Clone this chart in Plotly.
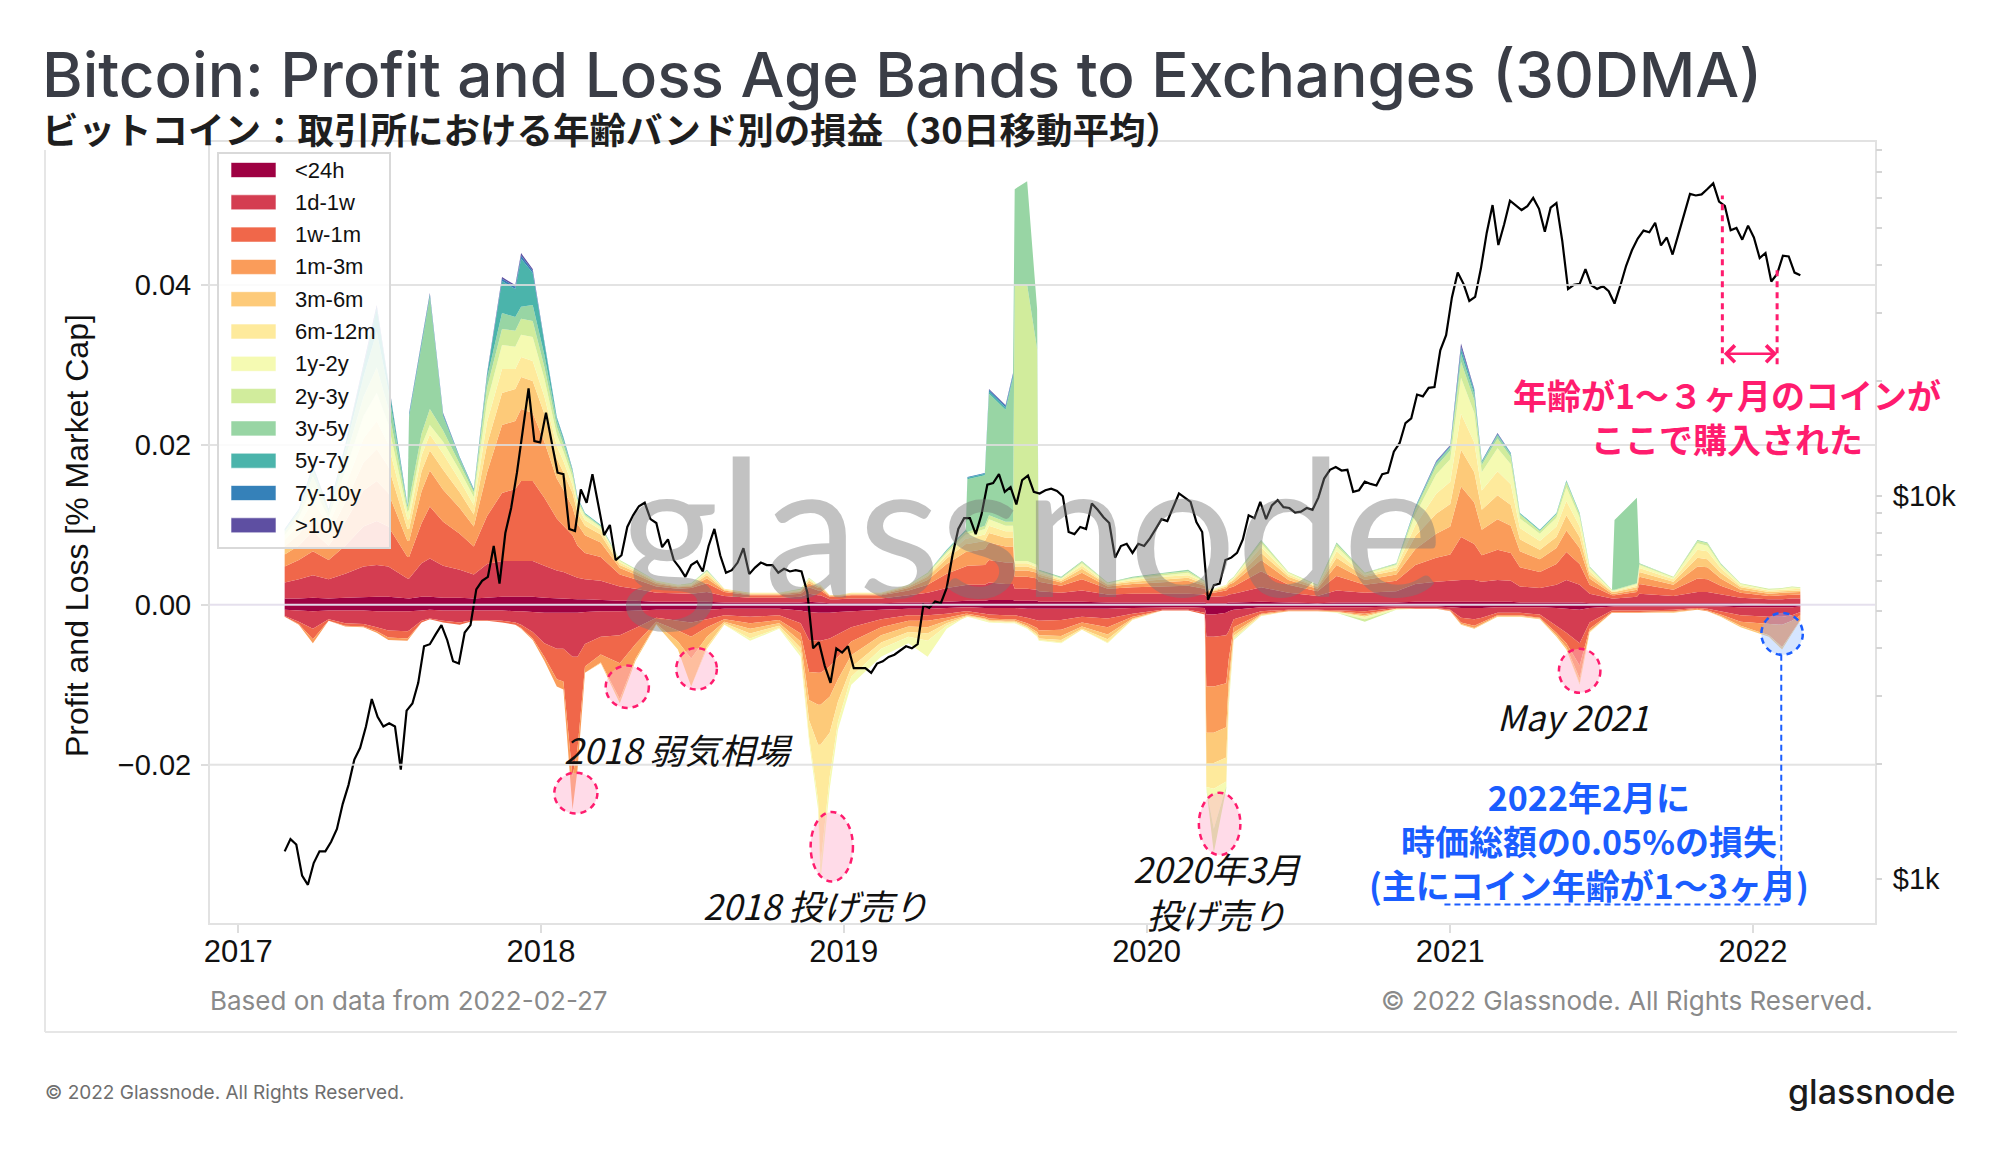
import numpy as np
import pandas as pd
import plotly.graph_objects as go

# Age bands (legend order, innermost band first)
BANDS = ["<24h", "1d-1w", "1w-1m", "1m-3m", "3m-6m", "6m-12m",
         "1y-2y", "2y-3y", "3y-5y", "5y-7y", "7y-10y", ">10y"]
COLORS = ["#9e0142", "#d43d51", "#f0674a", "#fa9c5a", "#fdca79", "#feea9c",
          "#f5fab2", "#d1ec9c", "#98d5a4", "#4bb4ab", "#3581b9", "#5e4fa2"]

# 30DMA profit / loss per band, in units of 0.0001 (% market cap)
BAND_DATES = [
    "2017-02-26", "2017-03-15", "2017-04-01", "2017-04-20", "2017-05-10", "2017-06-01", "2017-06-17", "2017-07-01", "2017-07-24", "2017-07-26",
    "2017-08-10", "2017-08-20", "2017-09-05", "2017-09-25", "2017-10-12", "2017-10-28", "2017-11-15", "2017-12-01", "2017-12-08", "2017-12-22",
    "2018-01-05", "2018-01-20", "2018-01-28", "2018-02-08", "2018-02-14", "2018-02-23", "2018-03-14", "2018-04-06", "2018-04-25", "2018-05-20",
    "2018-06-15", "2018-07-01", "2018-07-20", "2018-08-10", "2018-09-10", "2018-10-15", "2018-11-10", "2018-11-20", "2018-12-01", "2018-12-04",
    "2018-12-15", "2018-12-25", "2019-01-10", "2019-02-15", "2019-03-20", "2019-04-12", "2019-05-05", "2019-05-28", "2019-05-30", "2019-06-20",
    "2019-06-25", "2019-07-15", "2019-07-24", "2019-07-26", "2019-08-10", "2019-08-22", "2019-08-24", "2019-09-20", "2019-10-15", "2019-11-15",
    "2019-12-15", "2020-01-20", "2020-02-20", "2020-03-11", "2020-03-13", "2020-03-22", "2020-04-06", "2020-04-09", "2020-04-15", "2020-05-18",
    "2020-06-20", "2020-07-25", "2020-08-17", "2020-09-20", "2020-10-28", "2020-11-20", "2020-12-15", "2021-01-01", "2021-01-14", "2021-01-30",
    "2021-02-08", "2021-02-27", "2021-03-15", "2021-03-26", "2021-04-19", "2021-05-09", "2021-05-21", "2021-06-06", "2021-06-18", "2021-07-15",
    "2021-07-18", "2021-08-14", "2021-08-17", "2021-09-27", "2021-10-26", "2021-11-07", "2021-11-23", "2021-12-17", "2022-01-20", "2022-02-05",
    "2022-02-17", "2022-02-27",
]

P_LT24H = [8, 8, 9, 8, 9, 10, 10, 10, 8, 8,
           10, 10, 9, 9, 8, 9, 10, 10, 10, 10,
           9, 8, 8, 7, 7, 7, 6, 5, 5, 4,
           4, 4, 4, 3, 3, 3, 3, 4, 3, 3,
           2, 2, 2, 2, 3, 3, 4, 5, 5, 5,
           6, 6, 6, 5, 5, 5, 4, 4, 4, 3,
           3, 3, 3, 3, 2, 2, 2, 3, 3, 4,
           3, 2, 3, 3, 3, 4, 4, 4, 4, 4,
           4, 4, 4, 3, 3, 3, 3, 3, 2, 2,
           2, 2, 2, 2, 2, 2, 2, 2, 1, 1,
           1, 1]
P_1D1W = [20, 24, 28, 24, 30, 38, 40, 38, 25, 25,
          42, 48, 40, 35, 30, 42, 45, 45, 45, 45,
          40, 35, 33, 30, 27, 25, 24, 18, 15, 11,
          10, 10, 12, 8, 6, 6, 7, 10, 9, 9,
          5, 5, 6, 6, 9, 12, 17, 20, 20, 20,
          22, 20, 20, 15, 15, 14, 13, 11, 14, 10,
          11, 11, 11, 10, 8, 8, 9, 10, 11, 18,
          12, 9, 15, 12, 14, 22, 25, 26, 27, 27,
          25, 27, 26, 20, 18, 22, 28, 22, 12, 6,
          6, 8, 12, 9, 14, 14, 11, 7, 6, 6,
          7, 7]
P_1W1M = [20, 24, 30, 24, 35, 50, 55, 50, 27, 27,
          50, 65, 55, 45, 35, 60, 85, 90, 100, 100,
          85, 65, 58, 50, 40, 33, 30, 15, 12, 8,
          6, 7, 11, 5, 3, 3, 4, 8, 6, 6,
          3, 3, 4, 4, 6, 10, 18, 24, 24, 25,
          28, 27, 27, 15, 15, 14, 12, 9, 14, 7,
          8, 9, 10, 7, 5, 5, 7, 8, 9, 20,
          10, 6, 18, 10, 13, 24, 30, 33, 54, 45,
          33, 38, 35, 24, 20, 26, 35, 26, 11, 4,
          4, 6, 12, 8, 17, 16, 11, 6, 4, 5,
          5, 5]
P_1M3M = [15, 18, 25, 18, 30, 45, 50, 42, 20, 20,
          40, 45, 40, 32, 25, 55, 85, 85, 90, 85,
          70, 50, 45, 35, 27, 22, 18, 8, 6, 3,
          2, 2, 6, 2, 1, 1, 2, 5, 3, 3,
          1, 1, 1, 1, 3, 6, 12, 17, 17, 20,
          22, 20, 20, 8, 8, 7, 6, 4, 8, 3,
          4, 5, 6, 4, 2, 2, 3, 4, 5, 14,
          6, 3, 14, 6, 8, 20, 30, 35, 63, 52,
          32, 38, 34, 20, 16, 20, 27, 20, 8, 2,
          2, 3, 9, 6, 15, 15, 9, 4, 3, 3,
          3, 3]
P_3M6M = [10, 14, 20, 14, 24, 35, 40, 33, 15, 15,
          25, 25, 25, 20, 15, 35, 40, 40, 40, 40,
          35, 25, 22, 18, 14, 12, 10, 4, 3, 2,
          1, 1, 4, 1, 1, 1, 1, 3, 2, 2,
          1, 1, 1, 1, 2, 4, 7, 10, 10, 10,
          12, 11, 11, 5, 5, 4, 3, 2, 5, 2,
          3, 4, 4, 2, 1, 1, 2, 2, 3, 9,
          4, 2, 9, 4, 5, 16, 25, 28, 46, 38,
          25, 30, 26, 15, 12, 14, 19, 14, 5, 2,
          2, 3, 6, 4, 11, 10, 7, 3, 2, 2,
          2, 2]
P_6M12M = [8, 12, 18, 12, 20, 30, 35, 28, 12, 12,
           20, 20, 20, 15, 12, 28, 30, 25, 25, 25,
           22, 16, 14, 10, 8, 7, 6, 3, 2, 1,
           1, 1, 3, 1, 1, 1, 1, 2, 1, 1,
           0, 0, 1, 1, 1, 2, 4, 7, 7, 8,
           9, 8, 8, 4, 4, 3, 2, 2, 4, 1,
           2, 3, 3, 2, 1, 1, 1, 1, 2, 7,
           3, 1, 8, 2, 4, 14, 25, 28, 45, 37,
           24, 30, 26, 14, 11, 13, 18, 13, 4, 1,
           1, 2, 5, 3, 10, 10, 6, 2, 2, 2,
           2, 2]
P_1Y2Y = [6, 9, 17, 9, 19, 28, 35, 25, 9, 12,
          12, 12, 15, 12, 10, 25, 30, 28, 28, 30,
          22, 14, 12, 9, 6, 5, 3, 2, 1, 1,
          1, 1, 2, 0, 0, 0, 1, 1, 1, 1,
          0, 0, 0, 0, 1, 2, 3, 5, 5, 7,
          8, 7, 7, 3, 3, 3, 2, 1, 3, 1,
          2, 2, 3, 1, 1, 1, 1, 1, 1, 5,
          2, 1, 6, 2, 3, 13, 24, 28, 45, 37,
          23, 29, 25, 12, 9, 11, 17, 11, 4, 1,
          1, 2, 4, 2, 8, 7, 4, 2, 1, 1,
          2, 1]
P_2Y3Y = [4, 6, 14, 6, 15, 24, 32, 20, 5, 11,
          15, 20, 14, 9, 6, 18, 20, 20, 20, 20,
          15, 10, 8, 6, 3, 2, 1, 1, 1, 0,
          0, 1, 1, 0, 0, 0, 1, 1, 0, 0,
          0, 0, 0, 0, 0, 1, 2, 3, 3, 4,
          5, 5, 5, 345, 345, 270, 1, 1, 2, 1,
          1, 2, 2, 1, 0, 0, 0, 1, 1, 3,
          1, 1, 3, 1, 1, 6, 10, 11, 20, 16,
          9, 12, 9, 5, 3, 4, 6, 4, 1, 1,
          1, 1, 1, 1, 3, 3, 1, 1, 1, 1,
          1, 1]
P_3Y5Y = [2, 3, 9, 3, 12, 25, 45, 22, 2, 105,
          110, 140, 18, 6, 2, 12, 20, 17, 15, 20,
          15, 8, 6, 3, 1, 1, 1, 0, 0, 0,
          0, 0, 1, 0, 0, 0, 0, 0, 0, 0,
          0, 0, 0, 0, 0, 0, 1, 2, 66, 63,
          152, 140, 180, 120, 130, 50, 1, 1, 1, 0,
          1, 1, 2, 0, 0, 0, 0, 0, 0, 1,
          0, 0, 2, 0, 1, 2, 4, 4, 10, 7,
          3, 4, 3, 1, 1, 1, 2, 1, 1, 0,
          87, 107, 1, 0, 1, 1, 1, 0, 0, 0,
          0, 0]
P_5Y7Y = [1, 1, 3, 1, 4, 12, 28, 10, 1, 3,
          4, 3, 2, 1, 1, 4, 40, 35, 60, 40,
          15, 3, 3, 1, 1, 1, 1, 0, 0, 0,
          0, 0, 0, 0, 0, 0, 0, 0, 0, 0,
          0, 0, 0, 0, 0, 0, 1, 1, 2, 2,
          3, 3, 3, 0, 0, 0, 0, 0, 0, 0,
          0, 0, 0, 0, 0, 0, 0, 0, 0, 0,
          0, 0, 0, 0, 0, 1, 1, 1, 6, 4,
          1, 1, 1, 1, 1, 1, 1, 1, 0, 0,
          0, 0, 0, 0, 0, 0, 0, 0, 0, 0,
          0, 0]
P_7Y10Y = [1, 1, 1, 1, 1, 2, 3, 1, 1, 1,
           1, 1, 1, 1, 1, 1, 3, 3, 4, 3,
           2, 1, 1, 1, 1, 0, 0, 0, 0, 0,
           0, 0, 0, 0, 0, 0, 0, 0, 0, 0,
           0, 0, 0, 0, 0, 0, 0, 0, 1, 1,
           2, 2, 2, 0, 0, 0, 0, 0, 0, 0,
           0, 0, 0, 0, 0, 0, 0, 0, 0, 0,
           0, 0, 0, 0, 0, 1, 1, 1, 3, 2,
           1, 1, 1, 0, 0, 0, 0, 0, 0, 0,
           0, 0, 0, 0, 0, 0, 0, 0, 0, 0,
           0, 0]
P_GT10Y = [0, 0, 1, 0, 1, 1, 2, 1, 0, 1,
           1, 1, 1, 0, 0, 1, 2, 2, 3, 2,
           0, 0, 0, 0, 0, 0, 0, 0, 0, 0,
           0, 0, 0, 0, 0, 0, 0, 0, 0, 0,
           0, 0, 0, 0, 0, 0, 0, 0, 0, 0,
           1, 1, 1, 0, 0, 0, 0, 0, 0, 0,
           0, 0, 0, 0, 0, 0, 0, 0, 0, 0,
           0, 0, 0, 0, 0, 0, 1, 1, 4, 1,
           0, 1, 0, 0, 0, 0, 0, 0, 0, 0,
           0, 0, 0, 0, 0, 0, 0, 0, 0, 0,
           0, 0]

# realised losses (magnitudes, same units); bands older than 3y show no visible loss
L_LT24H = [6, 7, 8, 7, 7, 7, 8, 8, 8, 8,
           7, 6, 7, 7, 7, 7, 7, 8, 8, 9,
           10, 10, 10, 10, 10, 9, 8, 8, 7, 6,
           6, 6, 6, 5, 5, 5, 7, 9, 10, 10,
           10, 9, 8, 6, 5, 5, 4, 3, 3, 4,
           4, 4, 4, 4, 5, 5, 5, 5, 5, 5,
           4, 3, 3, 4, 12, 12, 10, 8, 6, 3,
           3, 3, 3, 3, 2, 2, 2, 3, 4, 4,
           4, 3, 3, 3, 3, 4, 5, 6, 4, 2,
           2, 2, 2, 2, 2, 2, 2, 3, 3, 3,
           3, 2]
L_1D1W = [8, 14, 22, 11, 16, 17, 20, 24, 25, 24,
          13, 11, 13, 15, 12, 12, 13, 14, 17, 25,
          38, 45, 45, 55, 55, 40, 32, 30, 22, 10,
          14, 16, 12, 8, 10, 8, 16, 35, 35, 35,
          32, 28, 20, 12, 8, 8, 7, 5, 5, 7,
          8, 9, 9, 9, 11, 14, 15, 14, 10, 12,
          7, 3, 3, 6, 28, 28, 28, 25, 12, 5,
          3, 3, 4, 5, 2, 2, 2, 3, 12, 14,
          12, 7, 7, 7, 9, 22, 30, 42, 18, 5,
          5, 5, 5, 4, 2, 3, 6, 10, 12, 12,
          10, 7]
L_1W1M = [1, 3, 13, 2, 3, 3, 5, 9, 9, 8,
          2, 1, 2, 3, 1, 1, 2, 3, 4, 8,
          17, 38, 41, 150, 115, 28, 22, 35, 20, 5,
          12, 18, 10, 5, 8, 6, 13, 40, 40, 40,
          35, 28, 18, 10, 7, 7, 5, 3, 3, 4,
          5, 5, 5, 5, 7, 10, 12, 12, 7, 11,
          4, 1, 1, 2, 62, 62, 60, 35, 10, 3,
          1, 1, 1, 3, 1, 1, 1, 1, 6, 8,
          6, 3, 3, 3, 4, 9, 13, 28, 8, 2,
          2, 2, 2, 2, 1, 2, 4, 8, 9, 10,
          7, 4]
L_1M3M = [0, 1, 5, 0, 1, 1, 2, 3, 3, 2,
          0, 0, 0, 0, 0, 0, 0, 0, 1, 2,
          5, 9, 10, 41, 26, 8, 10, 45, 18, 3,
          14, 27, 12, 3, 7, 4, 10, 35, 40, 40,
          38, 28, 17, 10, 7, 8, 4, 2, 2, 2,
          2, 2, 2, 2, 3, 5, 6, 8, 5, 9,
          2, 0, 0, 0, 58, 58, 55, 28, 7, 1,
          1, 1, 1, 2, 0, 0, 0, 1, 2, 3,
          2, 1, 1, 1, 1, 3, 5, 16, 3, 1,
          1, 1, 1, 1, 1, 1, 2, 5, 14, 28,
          14, 6]
L_3M6M = [0, 0, 0, 0, 0, 0, 0, 0, 0, 0,
          0, 0, 0, 0, 0, 0, 0, 0, 0, 0,
          0, 0, 0, 0, 0, 0, 1, 5, 3, 1,
          10, 35, 12, 2, 6, 3, 8, 25, 50, 50,
          45, 28, 15, 9, 7, 8, 3, 1, 1, 1,
          1, 1, 1, 1, 2, 3, 4, 5, 3, 6,
          1, 0, 0, 0, 38, 38, 38, 15, 4, 1,
          0, 0, 0, 2, 0, 0, 0, 0, 1, 1,
          1, 1, 1, 1, 1, 2, 3, 6, 1, 0,
          0, 0, 0, 1, 0, 0, 1, 2, 2, 3,
          2, 1]
L_6M12M = [0, 0, 0, 0, 0, 0, 0, 0, 0, 0,
           0, 0, 0, 0, 0, 0, 0, 0, 0, 0,
           0, 0, 0, 0, 0, 0, 0, 0, 0, 0,
           0, 0, 3, 2, 6, 3, 7, 20, 70, 150,
           55, 25, 12, 8, 6, 9, 3, 1, 1, 1,
           1, 1, 1, 1, 1, 2, 2, 3, 1, 4,
           1, 0, 0, 0, 30, 32, 30, 10, 3, 1,
           0, 0, 0, 0, 0, 0, 0, 0, 0, 0,
           0, 0, 0, 0, 0, 0, 0, 2, 1, 0,
           0, 0, 0, 0, 0, 0, 0, 0, 0, 0,
           0, 0]
L_1Y2Y = [0, 0, 0, 0, 0, 0, 0, 0, 0, 0,
          0, 0, 0, 0, 0, 0, 0, 0, 0, 0,
          0, 0, 0, 0, 0, 0, 0, 0, 0, 0,
          0, 0, 0, 0, 3, 1, 4, 6, 11, 19,
          15, 10, 10, 10, 8, 20, 4, 0, 0, 1,
          1, 1, 1, 1, 1, 1, 1, 1, 0, 1,
          0, 0, 0, 0, 2, 50, 6, 4, 1, 0,
          0, 0, 1, 3, 1, 0, 0, 0, 0, 0,
          0, 0, 0, 0, 0, 0, 0, 0, 0, 0,
          0, 0, 0, 0, 0, 0, 0, 0, 0, 0,
          0, 0]
L_2Y3Y = [0, 0, 0, 0, 0, 0, 0, 0, 0, 0,
          0, 0, 0, 0, 0, 0, 0, 0, 0, 0,
          0, 0, 0, 0, 0, 0, 0, 0, 0, 0,
          0, 0, 0, 0, 0, 0, 0, 0, 0, 0,
          0, 0, 0, 0, 0, 0, 0, 0, 0, 0,
          0, 0, 0, 0, 0, 0, 0, 0, 0, 0,
          0, 0, 0, 0, 0, 30, 3, 2, 1, 0,
          0, 0, 0, 3, 0, 0, 0, 0, 0, 0,
          0, 0, 0, 0, 0, 0, 0, 0, 0, 0,
          0, 0, 0, 0, 0, 0, 0, 0, 0, 0,
          0, 0]

# BTC price, weekly closes from 2017-02-26 to 2022-02-27 (USD)
BTC_PRICE = [
    # 2017
    1180, 1270, 1230, 1020, 965, 1100, 1180, 1180, 1250, 1350,
    1570, 1760, 2050, 2200, 2500, 2950, 2650, 2500, 2550, 2500,
    1930, 2750, 2870, 3250, 4050, 4100, 4350, 4600, 4200, 3700,
    3650, 4400, 4600, 5700, 6000, 6150, 7400, 5900, 8000, 9300,
    11500, 15000, 19100, 13900, 13800,
    # 2018
    16500, 13700, 11500, 11400, 8200, 8100, 10400, 9600, 11400, 9500,
    7900, 8400, 6800, 7000, 8300, 8900, 9400, 9600, 8700, 8500,
    7350, 7700, 6800, 6500, 6150, 6600, 6750, 6350, 7400, 8200,
    7000, 6300, 6400, 6700, 7300, 6250, 6500, 6700, 6600, 6600,
    6300, 6450, 6350, 6400, 6350, 5600, 4000, 4150, 3600, 3250,
    4000, 3900,
    # 2019
    4050, 3550, 3550, 3550, 3450, 3650, 3700, 3800, 3850, 3950,
    4050, 4000, 4100, 5200, 5100, 5300, 5250, 5750, 7000, 8200,
    8750, 8750, 7950, 8950, 10700, 10800, 11400, 10250, 10550, 9500,
    11000, 11300, 10250, 10150, 10350, 10450, 10300, 9980, 8050, 7950,
    8300, 8200, 9550, 9200, 8800, 8500, 6900, 7400, 7500, 7100,
    7500, 7400,
    # 2020
    7750, 8200, 8700, 8600, 9350, 10150, 9900, 9650, 8550, 8050,
    5350, 5850, 5900, 6800, 6900, 7100, 7700, 8900, 8750, 9650,
    8700, 9450, 9750, 9350, 9300, 9050, 9100, 9300, 9200, 9900,
    11100, 11700, 11900, 11650, 11700, 10250, 10350, 10900, 10750, 10650,
    11400, 11500, 13050, 13750, 15500, 15950, 18400, 18200, 19150, 19250,
    24000, 26300,
    # 2021
    33000, 38300, 35800, 32300, 33100, 39300, 48700, 57500, 45200, 51200,
    59000, 57500, 55800, 57100, 60000, 56200, 49000, 56600, 58200, 46400,
    34700, 35600, 35800, 39100, 35500, 34700, 35300, 34250, 31800, 35400,
    39900, 43800, 47000, 49300, 48800, 51700, 45100, 47300, 42700, 48200,
    54900, 61500, 60900, 61300, 63300, 65500, 58700, 57200, 49400, 50100,
    46700, 50800,
    # 2022
    47300, 41800, 43100, 36300, 38000, 42400, 42200, 38300, 37700,
]

YEAR_TICKS = ["2017-01-01", "2018-01-01", "2019-01-01", "2020-01-01", "2021-01-01", "2022-01-01"]
YEAR_LABELS = ["2017", "2018", "2019", "2020", "2021", "2022"]
PRICE_TICKS = [1000, 2000, 3000, 4000, 5000, 6000, 7000, 8000, 9000,
               10000, 20000, 30000, 40000, 50000, 60000, 70000, 80000]
PRICE_LABELS = ["$1k", "", "", "", "", "", "", "", "", "$10k", "", "", "", "", "", "", ""]

PINK = "#ff1c6e"
BLUE = "#1a5dff"
JP = "Noto Sans CJK JP"
ARIAL = "Liberation Sans, Arial"

# plot area in page pixels (the page adds an 8px body margin)
PW, PH = 1665, 781


def px(xp):
    return (xp - 210) / PW


def py(yp):
    return (923 - yp) / PH


profit = [P_LT24H, P_1D1W, P_1W1M, P_1M3M, P_3M6M, P_6M12M,
          P_1Y2Y, P_2Y3Y, P_3Y5Y, P_5Y7Y, P_7Y10Y, P_GT10Y]
loss = [L_LT24H, L_1D1W, L_1W1M, L_1M3M, L_3M6M, L_6M12M, L_1Y2Y, L_2Y3Y]

x = pd.to_datetime(BAND_DATES)
fig = go.Figure()

for name, col, vals in zip(BANDS, COLORS, profit):
    fig.add_trace(go.Scatter(x=x, y=np.array(vals) * 1e-4, name=name,
                             stackgroup="profit", mode="lines", line=dict(width=0, color=col),
                             fillcolor=col, hoverinfo="skip"))
for name, col, vals in zip(BANDS, COLORS, loss):
    fig.add_trace(go.Scatter(x=x, y=-np.array(vals) * 1e-4, name=name,
                             stackgroup="loss", mode="lines", line=dict(width=0, color=col),
                             fillcolor=col, hoverinfo="skip"))

price_dates = pd.date_range("2017-02-26", periods=len(BTC_PRICE), freq="7D")
fig.add_trace(go.Scatter(x=price_dates, y=BTC_PRICE, yaxis="y2", mode="lines",
                         line=dict(color="black", width=2.2), hoverinfo="skip"))

fig.update_layout(
    width=1992, height=1144, template="none", showlegend=False,
    margin=dict(l=202, r=125, t=134, b=229),
    paper_bgcolor="white", plot_bgcolor="white",
    font=dict(family=ARIAL, color="#111111"),
    xaxis=dict(type="date", range=["2016-11-28", "2022-05-28"], tickvals=YEAR_TICKS, ticktext=YEAR_LABELS,
               ticks="outside", ticklen=8, tickwidth=2, tickcolor="#dddddd", showgrid=False, zeroline=False,
               showline=True, linecolor="#e2e2e2", linewidth=2, mirror=True,
               tickfont=dict(size=31, color="#111111"), ticklabelstandoff=-8, automargin=False),
    yaxis=dict(range=[-0.0398, 0.0579], tickvals=[-0.02, 0, 0.02, 0.04],
               ticktext=["\u22120.02", "0.00", "0.02", "0.04"],
               ticks="outside", ticklen=7, tickwidth=2, tickcolor="#dddddd", showgrid=False, zeroline=False,
               showline=True, linecolor="#e2e2e2", linewidth=2, mirror=True,
               tickfont=dict(size=29, color="#111111"), ticklabelstandoff=4, automargin=False),
    yaxis2=dict(overlaying="y", side="right", type="log", range=[np.log10(767), np.log10(84000)],
                tickvals=PRICE_TICKS, ticktext=PRICE_LABELS, ticks="outside", ticklen=6, tickwidth=1.5,
                tickcolor="#d5d5d5", showgrid=False, zeroline=False, showline=False,
                tickfont=dict(size=29, color="#111111"), ticklabelstandoff=5, automargin=False),
)

shapes = []
# grid lines sit above the areas, as in the original
for yv in [-0.02, 0.02, 0.04]:
    shapes.append(dict(type="line", xref="paper", x0=0, x1=1, yref="y", y0=yv, y1=yv, layer="above",
                       line=dict(color="rgba(222,222,222,0.85)", width=2)))
shapes.append(dict(type="line", xref="paper", x0=0, x1=1, yref="y", y0=0, y1=0, layer="above",
                   line=dict(color="rgba(228,222,236,0.95)", width=2)))

# card outline
shapes.append(dict(type="line", xref="paper", yref="paper", x0=px(45), x1=px(45), y0=py(150), y1=py(1032),
                   layer="below", line=dict(color="#e6e6e6", width=2)))
shapes.append(dict(type="line", xref="paper", yref="paper", x0=px(45), x1=px(1957), y0=py(1032), y1=py(1032),
                   layer="below", line=dict(color="#e6e6e6", width=2)))
shapes.append(dict(type="line", xref="paper", yref="paper", x0=px(1), x1=px(1), y0=py(0), y1=py(1152),
                   layer="below", line=dict(color="#ececec", width=2)))

# legend box with wide colour swatches
shapes.append(dict(type="rect", xref="paper", yref="paper", x0=px(218), x1=px(390), y0=py(153), y1=py(548),
                   layer="above", fillcolor="rgba(255,255,255,0.85)", line=dict(color="#d9d9d9", width=2)))
ann = []
for i, (name, col) in enumerate(zip(BANDS, COLORS)):
    yc = 170 + 32.3 * i
    shapes.append(dict(type="rect", xref="paper", yref="paper", x0=px(231), x1=px(276),
                       y0=py(yc - 7.5), y1=py(yc + 7.5), layer="above", fillcolor=col,
                       line=dict(color="rgba(255,255,255,0.6)", width=1)))
    ann.append(dict(text=name, xref="paper", yref="paper", x=px(293), y=py(yc), xanchor="left",
                    yanchor="middle", showarrow=False, font=dict(family=ARIAL, size=22, color="#111111")))

# highlighted loss spikes
PINK_ELLIPSES = [
    ("2018-01-17", "2018-03-10", -0.0210, -0.0261),
    ("2018-03-20", "2018-05-11", -0.0076, -0.0129),
    ("2018-06-13", "2018-08-01", -0.0054, -0.0106),
    ("2018-11-22", "2019-01-12", -0.0259, -0.0346),
    ("2020-03-04", "2020-04-23", -0.0235, -0.0313),
    ("2021-05-12", "2021-07-01", -0.0055, -0.0110),
]
for x0, x1, y0, y1 in PINK_ELLIPSES:
    shapes.append(dict(type="circle", xref="x", yref="y", x0=x0, x1=x1, y0=y0, y1=y1, layer="above",
                       fillcolor="rgba(255,175,205,0.45)", line=dict(color=PINK, width=2.5, dash="6px,5px")))
shapes.append(dict(type="circle", xref="x", yref="y", x0="2022-01-11", x1="2022-03-02", y0=-0.0010, y1=-0.00625,
                   layer="above", fillcolor="rgba(150,190,255,0.40)", line=dict(color=BLUE, width=2.5, dash="6px,5px")))

# 1-3 month purchase window
shapes.append(dict(type="line", xref="x", yref="y", x0="2021-11-25", x1="2021-11-25", y0=0.0301, y1=0.0512,
                   layer="above", line=dict(color=PINK, width=3, dash="6px,5px")))
shapes.append(dict(type="line", xref="x", yref="y", x0="2022-01-30", x1="2022-01-30", y0=0.0301, y1=0.0421,
                   layer="above", line=dict(color=PINK, width=3, dash="6px,5px")))
# pointer from the Feb 2022 loss to its note
shapes.append(dict(type="line", xref="x", yref="y", x0="2022-02-04", x1="2022-02-04", y0=-0.00625, y1=-0.0375,
                   layer="above", line=dict(color=BLUE, width=2, dash="6px,4px")))
shapes.append(dict(type="line", xref="x", yref="y", x0="2020-12-25", x1="2022-02-04", y0=-0.0375, y1=-0.0375,
                   layer="above", line=dict(color=BLUE, width=2, dash="6px,4px")))
fig.update_layout(shapes=shapes)

# watermark
ann.append(dict(text="glassnode", xref="x", yref="y", x="2019-08-15", y=0.0103, showarrow=False,
                font=dict(family="Lato", size=190, color="rgba(120,120,120,0.45)")))
ann.append(dict(text="", xref="x", yref="y", x="2022-01-30", y=0.0314, ax="2021-11-25", ay=0.0314,
                axref="x", ayref="y", showarrow=True, arrowside="end+start", arrowhead=4, arrowsize=1.3,
                arrowwidth=2.5, arrowcolor=PINK, standoff=0, startstandoff=0))


def note(text, xv, yv, size, color="#111111", family=JP):
    ann.append(dict(text=text, xref="x", yref="y", x=xv, y=yv, showarrow=False,
                    font=dict(family=family, size=size, color=color)))


note("<b>年齢が1～３ヶ月のコインが<br>ここで購入された</b>", "2021-12-01", 0.0235, 34, PINK)
note("<b>2022年2月に<br>時価総額の0.05%の損失<br>(主にコイン年齢が1～3ヶ月)</b>", "2021-06-17", -0.0295, 34, BLUE)
note("<i>2018 弱気相場</i>", "2018-06-16", -0.0180, 35)
note("<i>2018 投げ売り</i>", "2018-11-29", -0.0375, 35)
note("<i>2020年3月<br>投げ売り</i>", "2020-03-26", -0.0357, 35)
note("<i>May 2021</i>", "2021-05-29", -0.0139, 35)


def paper_text(text, xv, yv, size, color, family, xanchor="left", angle=0, weight="normal"):
    ann.append(dict(text=text, xref="paper", yref="paper", x=xv, y=yv, xanchor=xanchor, yanchor="middle",
                    showarrow=False, textangle=angle,
                    font=dict(family=family, size=size, color=color, weight=weight)))


paper_text("Bitcoin: Profit and Loss Age Bands to Exchanges (30DMA)", px(40), py(75), 62, "#3a3d46", "Inter", weight=500)
paper_text("<b>ビットコイン：取引所における年齢バンド別の損益（30日移動平均）</b>", px(40), py(129), 36.5, "#1e1e1e", JP)
paper_text("Profit and Loss [% Market Cap]", px(77), py(536), 32, "#111111", ARIAL, "center", -90)
paper_text("Based on data from 2022-02-27", px(208), py(1000), 26, "#8a8a8a", "Inter")
paper_text("© 2022 Glassnode. All Rights Reserved.", px(1875), py(1000), 26, "#8a8a8a", "Inter", "right")
paper_text("© 2022 Glassnode. All Rights Reserved.", px(43), py(1092), 19, "#6e6e6e", "Inter")
paper_text("glassnode", px(1958), py(1091), 34, "#1b1b1b", "Inter", "right", weight=500)

fig.update_layout(annotations=ann)
fig.write_html("out.html")
